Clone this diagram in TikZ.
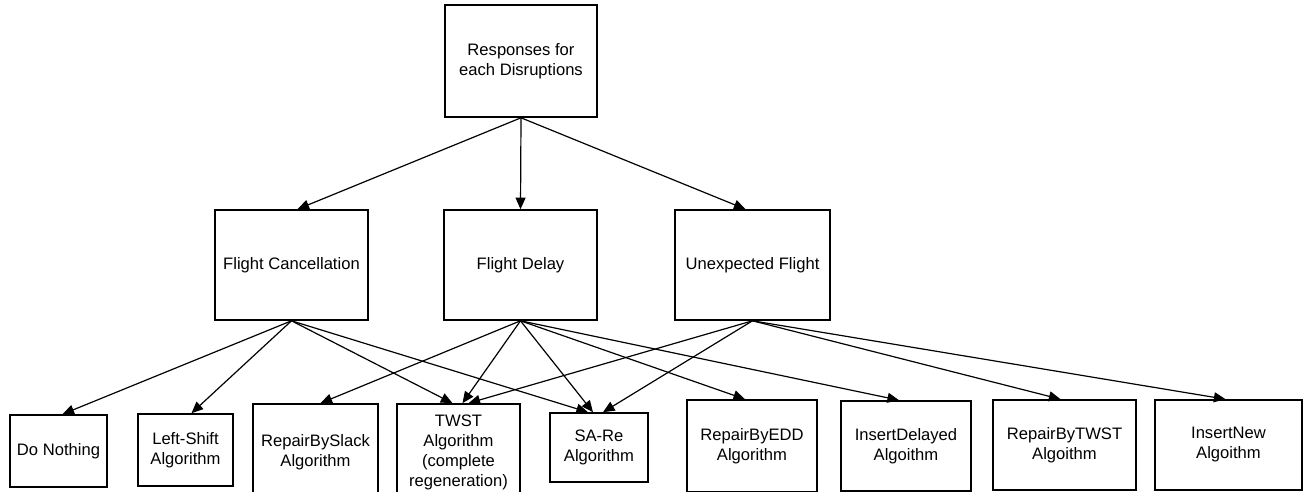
\documentclass[tikz,border=0pt]{standalone}
\usepackage{fontspec}
\setmainfont{Liberation Sans}
\usetikzlibrary{arrows.meta}
\tikzset{
  box/.style      = {draw,line width=0.8pt,align=center,inner sep=0pt,
                     font=\fontsize{8.3}{10}\selectfont},
  dim/.style 2 args = {minimum width=#1*0.5pt,minimum height=#2*0.5pt},
  arr/.style      = {-{Triangle[length=5.8pt,width=5pt]},line width=0.6pt}
}

\begin{document}
\begin{tikzpicture}[x=0.5pt,y=-0.5pt]
  \useasboundingbox (0,0) rectangle (1307,492);
  % root
  \node[box,dim={152}{112}] (resp) at (521,61) {Responses for\\each Disruptions};
  % disruptions
  \node[box,dim={153}{110}] (cancel) at (291.5,265) {Flight Cancellation};
  \node[box,dim={153}{110}] (delay)  at (520.5,265) {Flight Delay};
  \node[box,dim={155}{110}] (unexp)  at (752.5,265) {Unexpected Flight};
  % responses
  \node[box,dim={97}{72}]  (nothing) at (58.5,451)  {Do Nothing};
  \node[box,dim={95}{72}]  (lshift)  at (185.5,450) {Left-Shift\\Algorithm};
  \node[box,dim={125}{96}] (slack)   at (315.5,452) {RepairBySlack\\Algorithm};
  \node[box,dim={123}{96}] (twst)    at (458.5,452) {TWST\\Algorithm\\(complete\\regeneration)};
  \node[box,dim={98}{69}]  (sare)    at (599,447.5) {SA-Re\\Algorithm};
  \node[box,dim={130}{92}] (edd)     at (752,446)   {RepairByEDD\\Algorithm};
  \node[box,dim={130}{90}] (insdel)  at (906,446)   {InsertDelayed\\Algoithm};
  \node[box,dim={143}{90}] (rtwst)   at (1064.5,445) {RepairByTWST\\Algoithm};
  \node[box,dim={147}{90}] (insnew)  at (1228.5,445) {InsertNew\\Algoithm};

  \draw[arr] (resp.south) -- ([xshift=3pt]cancel.north);
  \draw[arr] (resp.south) -- (delay.north);
  \draw[arr] (resp.south) -- ([xshift=-3.5pt]unexp.north);

  \draw[arr] (cancel.south) -- ([xshift=2pt]nothing.north);
  \draw[arr] (cancel.south) -- ([xshift=3pt]lshift.north);
  \draw[arr] (cancel.south) -- ([xshift=-3pt]twst.north);
  \draw[arr] (cancel.south) -- ([xshift=-5.5pt]sare.north);

  \draw[arr] (delay.south) -- ([xshift=2.5pt]slack.north);
  \draw[arr] (delay.south) -- ([xshift=2pt]twst.north);
  \draw[arr] (delay.south) -- ([xshift=-3pt]sare.north);
  \draw[arr] (delay.south) -- ([xshift=-3.5pt]edd.north);
  \draw[arr] (delay.south) -- ([xshift=-3.5pt]insdel.north);

  \draw[arr] (unexp.south) -- ([xshift=5pt]twst.north);
  \draw[arr] (unexp.south) -- ([xshift=2pt]sare.north);
  \draw[arr] (unexp.south) -- ([xshift=-2pt]rtwst.north);
  \draw[arr] (unexp.south) -- ([xshift=-1.5pt]insnew.north);
\end{tikzpicture}
\end{document}
